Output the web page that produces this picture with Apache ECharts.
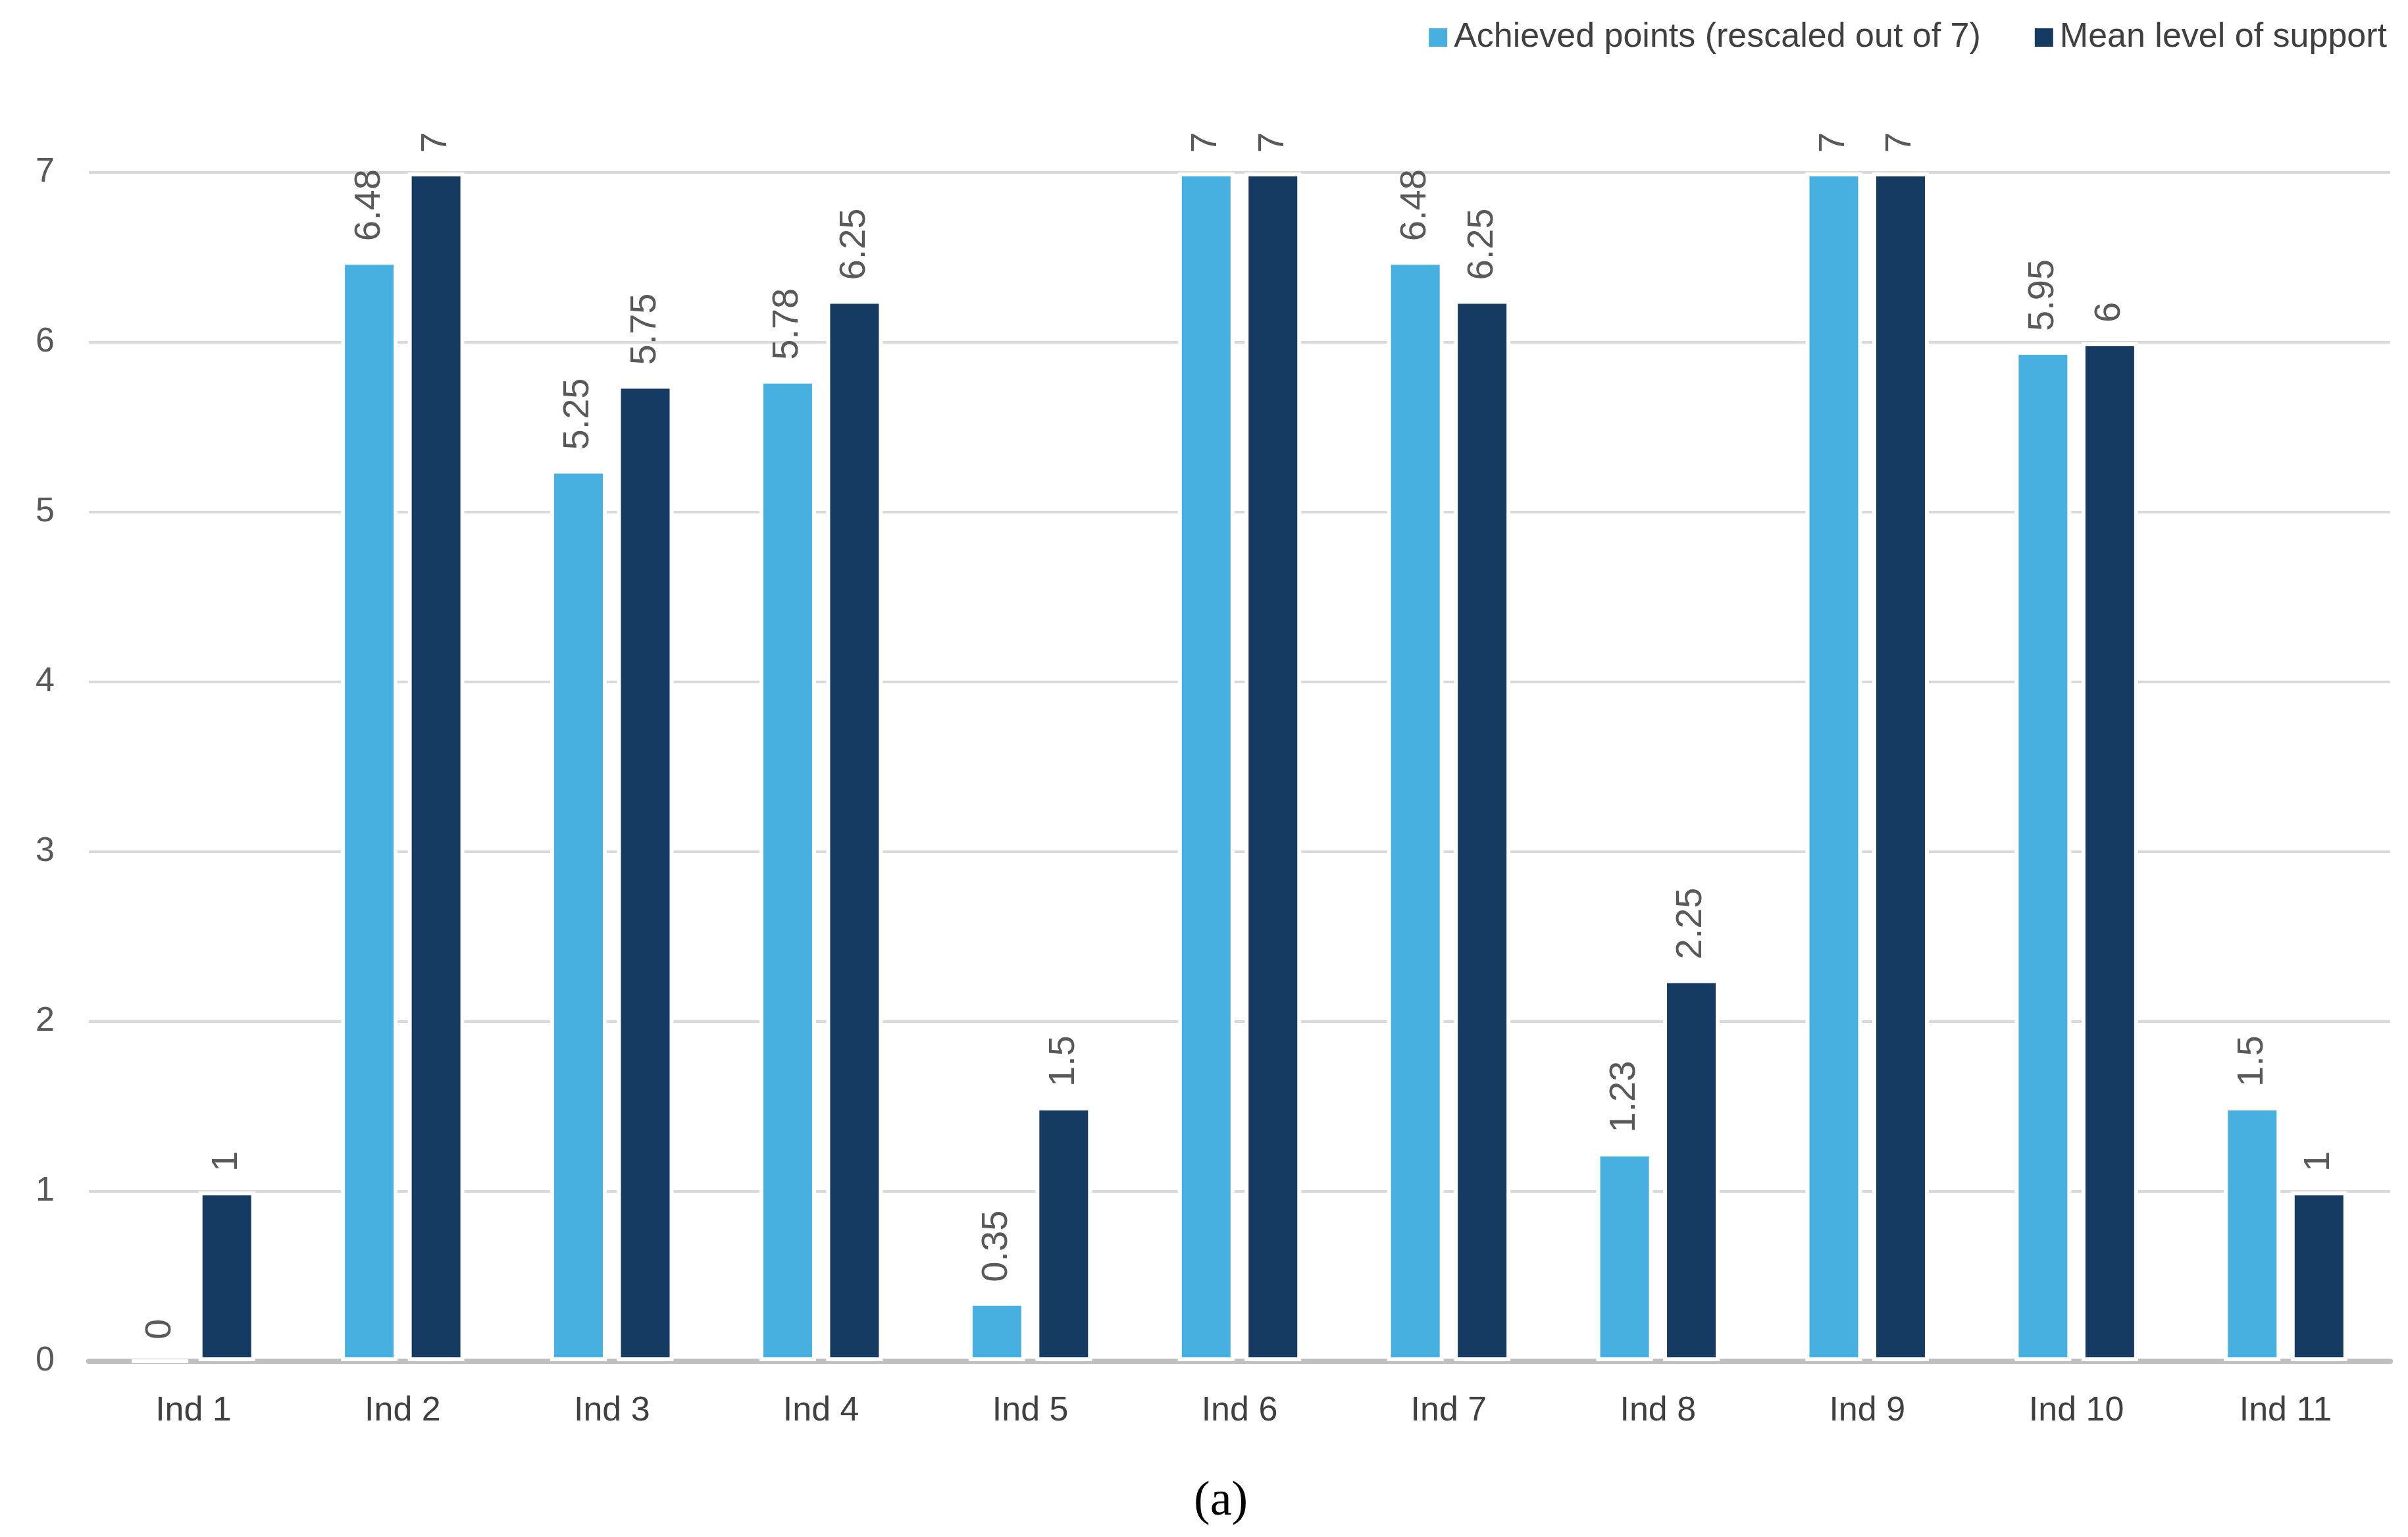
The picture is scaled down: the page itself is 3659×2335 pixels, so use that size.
<!DOCTYPE html>
<html>
<head>
<meta charset="utf-8">
<script src="https://cdn.jsdelivr.net/npm/echarts@6/dist/echarts.min.js"></script>
<style>
html,body{margin:0;padding:0;background:#fff;}
#c{width:3659px;height:2335px;}
</style>
</head>
<body>
<div id="c"></div>
<script>
const categories = ['Ind 1','Ind 2','Ind 3','Ind 4','Ind 5','Ind 6','Ind 7','Ind 8','Ind 9','Ind 10','Ind 11'];
const achievedPoints = [0, 6.48, 5.25, 5.78, 0.35, 7, 6.48, 1.23, 7, 5.95, 1.5];
const meanSupport = [1, 7, 5.75, 6.25, 1.5, 7, 6.25, 2.25, 7, 6, 1];
const yTicks = [0, 1, 2, 3, 4, 5, 6, 7];
const seriesNames = ['Achieved points (rescaled out of 7)', 'Mean level of support'];
const caption = '(a)';

const chart = echarts.init(document.getElementById('c'));
const labelStyle = {
  show: true,
  position: 'top',
  rotate: 90,
  align: 'left',
  verticalAlign: 'middle',
  distance: 30,
  color: '#595959',
  fontFamily: 'Liberation Sans',
  fontSize: 56
};
chart.setOption({
  backgroundColor: '#ffffff',
  animation: false,
  legend: {
    right: 27,
    top: 26,
    itemWidth: 30,
    itemHeight: 30,
    itemGap: 80,
    icon: 'rect',
    textStyle: { color: '#404040', fontFamily: 'Liberation Sans', fontSize: 52, padding: [0, 0, 0, 4] },
    data: seriesNames
  },
  grid: { left: 135, right: 27, top: 262, bottom: 267, containLabel: false },
  xAxis: {
    type: 'category',
    data: categories,
    axisLine: { show: true, lineStyle: { color: '#BFBFBF', width: 8 } },
    axisTick: { show: false },
    axisLabel: { color: '#404040', fontFamily: 'Liberation Sans', fontSize: 52, margin: 50 }
  },
  yAxis: {
    type: 'value',
    min: yTicks[0],
    max: yTicks[yTicks.length - 1],
    interval: 1,
    axisLine: { show: false },
    axisTick: { show: false },
    splitLine: { lineStyle: { color: '#D9D9D9', width: 4 } },
    axisLabel: { color: '#595959', fontFamily: 'Liberation Sans', fontSize: 52, margin: 52 }
  },
  series: [
    {
      name: seriesNames[0],
      type: 'bar',
      data: achievedPoints,
      barWidth: 86,
      barGap: '18%',
      itemStyle: { color: '#47B0E0', borderColor: '#ffffff', borderWidth: 6 },
      label: labelStyle
    },
    {
      name: seriesNames[1],
      type: 'bar',
      data: meanSupport,
      barWidth: 86,
      itemStyle: { color: '#163B62', borderColor: '#ffffff', borderWidth: 6 },
      label: labelStyle
    }
  ],
  graphic: [{
    type: 'text',
    left: 1814,
    top: 2245,
    style: { text: caption, fill: '#000000', font: '74px "Liberation Serif"' }
  }]
});
</script>
</body>
</html>
